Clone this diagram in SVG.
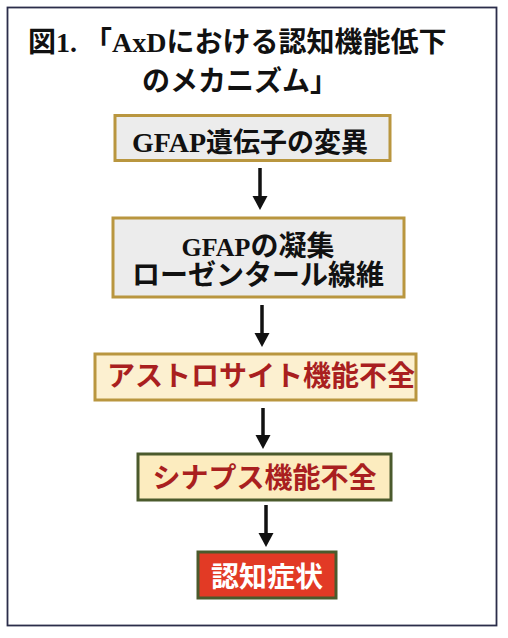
<svg xmlns="http://www.w3.org/2000/svg" width="508" height="638" viewBox="0 0 508 638">
<style>
.t{font-family:"Liberation Serif","Noto Sans CJK JP",serif;font-weight:bold;}
.title{font-size:28px;fill:#111;}
.gray rect{fill:#ececec;stroke:#b9963f;stroke-width:3;}
.cream rect{fill:#fcf0d0;stroke:#b9963f;stroke-width:3;}
.green rect{fill:#fcecbf;stroke:#4b5a2c;stroke-width:3;}
.red rect{fill:#e23a25;stroke:#4b5a2c;stroke-width:3;}
.dk{fill:#111;text-anchor:middle;}
.rd{fill:#a91f1f;text-anchor:middle;}
.wh{fill:#fff;text-anchor:middle;}
.conn line{stroke:#111;stroke-width:3.5;}
</style>
<defs>
<marker id="ah" markerUnits="userSpaceOnUse" markerWidth="16" markerHeight="16" viewBox="0 0 16 16" refX="1" refY="8" orient="auto">
<path d="M0,0.5 L14,8 L0,15.5 Z" fill="#111"/>
</marker>
</defs>
<rect x="0" y="0" width="508" height="638" fill="#fff"/>
<rect x="7.5" y="7.5" width="489" height="618" fill="#fff" stroke="#2b2d4a" stroke-width="1.8"/>
<g id="title">
<text class="t title" x="28" y="52">図1. 「AxDにおける認知機能低下</text>
<text class="t title" x="142" y="91">のメカニズム」</text>
</g>
<g id="conn" class="conn">
<line x1="260" y1="168" x2="260" y2="197" marker-end="url(#ah)"/>
<line x1="262" y1="305" x2="262" y2="334" marker-end="url(#ah)"/>
<line x1="263" y1="408" x2="263" y2="436" marker-end="url(#ah)"/>
<line x1="266" y1="505" x2="266" y2="534" marker-end="url(#ah)"/>
</g>
<g id="n1" class="gray">
<rect x="115" y="115.5" width="275" height="45"/>
<text class="t dk" x="250" y="152" font-size="27"><tspan font-size="28">GFAP</tspan>遺伝子の変異</text>
</g>
<g id="n2" class="gray">
<rect x="113" y="218" width="291" height="79"/>
<text class="t dk" x="258" y="256" font-size="28"><tspan font-size="26">GFAP</tspan>の凝集</text>
<text class="t dk" x="258" y="285" font-size="28">ローゼンタール線維</text>
</g>
<g id="n3" class="cream">
<rect x="95" y="354" width="321" height="46"/>
<text class="t rd" x="261" y="386" font-size="28">アストロサイト機能不全</text>
</g>
<g id="n4" class="green">
<rect x="138" y="454" width="253" height="46"/>
<text class="t rd" x="264.5" y="488" font-size="28">シナプス機能不全</text>
</g>
<g id="n5" class="red">
<rect x="198" y="552" width="138" height="46"/>
<text class="t wh" x="267" y="587" font-size="28">認知症状</text>
</g>
</svg>
